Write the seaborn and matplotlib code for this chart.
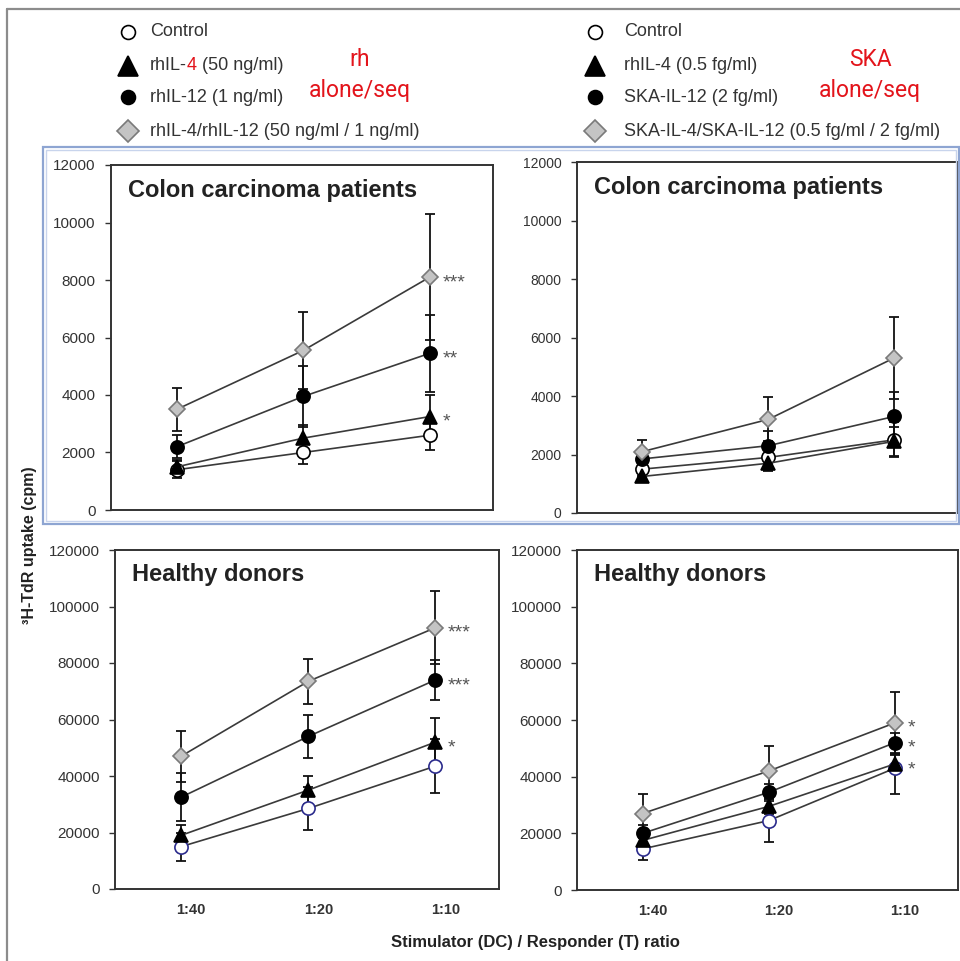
import matplotlib
matplotlib.use("Agg")
import numpy as np
import pandas as pd
import seaborn as sns
import matplotlib.pyplot as plt
from matplotlib.lines import Line2D
from matplotlib.patches import Rectangle
from matplotlib.text import Annotation
from matplotlib import font_manager

# ---------------------------------------------------------------- data
ratios = ["1:40", "1:20", "1:10"]
series = ["Control", "IL-4", "IL-12", "IL-4/IL-12"]

# colon carcinoma patients, recombinant human cytokines (mean, SEM)
colon_rh_mean = {"Control": [1400, 2000, 2600], "IL-4": [1500, 2500, 3250],
                 "IL-12": [2200, 3950, 5450], "IL-4/IL-12": [3500, 5550, 8100]}
colon_rh_err = {"Control": [300, 400, 520], "IL-4": [250, 450, 750],
                "IL-12": [400, 1050, 1350], "IL-4/IL-12": [750, 1350, 2200]}
colon_rh_stars = {"IL-4": "*", "IL-12": "**", "IL-4/IL-12": "***"}

# colon carcinoma patients, SKA cytokines
colon_ska_mean = {"Control": [1500, 1900, 2500], "IL-4": [1250, 1700, 2450],
                  "IL-12": [1850, 2300, 3300], "IL-4/IL-12": [2100, 3200, 5300]}
colon_ska_err = {"Control": [250, 300, 600], "IL-4": [200, 250, 500],
                 "IL-12": [300, 500, 850], "IL-4/IL-12": [400, 750, 1400]}
colon_ska_stars = {}

# healthy donors, recombinant human cytokines
healthy_rh_mean = {"Control": [15000, 28500, 43500], "IL-4": [19000, 35000, 52000],
                   "IL-12": [32500, 54000, 74000], "IL-4/IL-12": [47000, 73500, 92500]}
healthy_rh_err = {"Control": [5000, 7500, 9500], "IL-4": [3500, 5000, 8500],
                  "IL-12": [8500, 7500, 7000], "IL-4/IL-12": [9000, 8000, 13000]}
healthy_rh_stars = {"IL-4": "*", "IL-12": "***", "IL-4/IL-12": "***"}

# healthy donors, SKA cytokines
healthy_ska_mean = {"Control": [14500, 24500, 43000], "IL-4": [17500, 29500, 44500],
                    "IL-12": [20000, 34500, 52000], "IL-4/IL-12": [27000, 42000, 59000]}
healthy_ska_err = {"Control": [4000, 7500, 9000], "IL-4": [2500, 2500, 3000],
                   "IL-12": [3000, 3000, 3500], "IL-4/IL-12": [7000, 9000, 11000]}
healthy_ska_stars = {"IL-4": "*", "IL-12": "*", "IL-4/IL-12": "*"}

colon_ticks = [0, 2000, 4000, 6000, 8000, 10000, 12000]
healthy_ticks = [0, 20000, 40000, 60000, 80000, 100000, 120000]

legend_rh = ["Control", "rhIL-4 (50 ng/ml)", "rhIL-12 (1 ng/ml)",
             "rhIL-4/rhIL-12 (50 ng/ml / 1 ng/ml)"]
legend_ska = ["Control", "rhIL-4 (0.5 fg/ml)", "SKA-IL-12 (2 fg/ml)",
              "SKA-IL-4/SKA-IL-12 (0.5 fg/ml / 2 fg/ml)"]

# ---------------------------------------------------------------- style
sns.set_style("ticks")
plt.rcParams["font.family"] = ["Liberation Sans", "DejaVu Sans"]
installed = {f.name for f in font_manager.fontManager.ttflist}
narrow = "Liberation Sans Narrow" if "Liberation Sans Narrow" in installed else "Roboto"

W, H = 960, 961
fig = plt.figure(figsize=(W / 100, H / 100), dpi=100)


def fx(x):
    return x / W


def fy(y):
    return 1 - y / H


def box(l, t, r, b):
    return [fx(l), fy(b), fx(r) - fx(l), fy(t) - fy(b)]


TXT = "#333333"
styles = {
    "Control": dict(marker="o", ms=9.5, fc="white"),
    "IL-4": dict(marker="^", ms=10, fc="black"),
    "IL-12": dict(marker="o", ms=9.5, fc="black"),
    "IL-4/IL-12": dict(marker="D", ms=8, fc="#c4c4c4"),
}
edge = {"Control": "black", "IL-4": "black", "IL-12": "black", "IL-4/IL-12": "#7a7a7a"}
positions = [0, 1, 2]
label_shift = 0.08  # ratio labels sit a little right of their points


def draw_panel(ax, means, errs, stars, ticks, title, ctrl_edge, tick_fs, show_x):
    for name in series:
        st = styles[name]
        ax.errorbar(positions, means[name], yerr=errs[name], fmt="none",
                    ecolor="#111111", elinewidth=1.3, capsize=3.8, capthick=1.3,
                    zorder=2)
        df = pd.DataFrame({"pos": positions, "cpm": means[name]})
        ec = ctrl_edge if name == "Control" else edge[name]
        sns.lineplot(data=df, x="pos", y="cpm", ax=ax, color="#3a3a3a",
                     linewidth=1.2, marker=st["marker"], markersize=st["ms"],
                     markerfacecolor=st["fc"], markeredgecolor=ec,
                     markeredgewidth=1.2, zorder=3)
        if name in stars:
            ax.annotate(stars[name], xy=(2, means[name][2]), xytext=(9, -4),
                        textcoords="offset points", ha="left", va="center",
                        fontsize=14, color="#555555")
    ax.set_xlim(-0.52, 2.5)
    ax.set_ylim(ticks[0], ticks[-1])
    ax.set_yticks(ticks)
    ax.set_yticklabels([str(t) for t in ticks], fontsize=tick_fs, color=TXT)
    ax.set_xticks([p + label_shift for p in positions])
    if show_x:
        ax.set_xticklabels(ratios, fontsize=10.5, fontweight="bold", color=TXT)
    else:
        ax.set_xticklabels([])
    ax.tick_params(axis="x", length=0, pad=10)
    ax.tick_params(axis="y", length=4, width=1, color="#333333", pad=7)
    for sp in ax.spines.values():
        sp.set_visible(True)
        sp.set_color("#333333")
        sp.set_linewidth(1.4)
    ax.set_xlabel("")
    ax.set_ylabel("")
    ax.text(0.045, 1 - 25 / (ax.get_window_extent().height), title,
            transform=ax.transAxes, ha="left", va="center",
            fontsize=17, fontweight="bold", color="#222222")


ax_tl = fig.add_axes(box(111, 165, 493, 510))
ax_tr = fig.add_axes(box(577, 162, 957, 513))
ax_bl = fig.add_axes(box(115, 550, 499, 889))
ax_br = fig.add_axes(box(577, 550, 958, 890))

draw_panel(ax_tl, colon_rh_mean, colon_rh_err, colon_rh_stars, colon_ticks,
           "Colon carcinoma patients", "black", 11, False)
draw_panel(ax_tr, colon_ska_mean, colon_ska_err, colon_ska_stars, colon_ticks,
           "Colon carcinoma patients", "black", 10, False)
draw_panel(ax_bl, healthy_rh_mean, healthy_rh_err, healthy_rh_stars, healthy_ticks,
           "Healthy donors", "#2b2b8c", 11, True)
draw_panel(ax_br, healthy_ska_mean, healthy_ska_err, healthy_ska_stars, healthy_ticks,
           "Healthy donors", "#2b2b8c", 11, True)

# ---------------------------------------------------------------- frames
fig.add_artist(Line2D([fx(7), fx(7)], [fy(9), fy(961)], color="#8c8c8c", lw=1.6,
                      transform=fig.transFigure))
fig.add_artist(Line2D([fx(7), fx(960)], [fy(9), fy(9)], color="#8c8c8c", lw=1.6,
                      transform=fig.transFigure))
fig.add_artist(Rectangle((fx(43), fy(524)), fx(959) - fx(43), fy(147) - fy(524),
                         transform=fig.transFigure, fill=False, ec="#8ea5d2", lw=1.6))
fig.add_artist(Rectangle((fx(46), fy(521)), fx(956) - fx(46), fy(150) - fy(521),
                         transform=fig.transFigure, fill=False, ec="#c8d4ec", lw=1.0))

# ---------------------------------------------------------------- legends
rows = [32, 66, 97, 131]
leg_fs = 13


def legend_marker(x, y, name, size):
    st = styles[name]
    fig.add_artist(Line2D([fx(x)], [fy(y)], marker=st["marker"], markersize=size,
                          markerfacecolor=st["fc"], markeredgecolor=edge[name],
                          markeredgewidth=1.2, linestyle="none",
                          transform=fig.transFigure))


leg_sizes = {"Control": 10, "IL-4": 14, "IL-12": 10, "IL-4/IL-12": 11}
for i, name in enumerate(series):
    legend_marker(128, rows[i], name, leg_sizes[name])
    legend_marker(595, rows[i], name, leg_sizes[name])

for i, lab in enumerate(legend_rh):
    if i == 1:
        # the "4" of rhIL-4 is printed in red
        t1 = fig.text(fx(150), fy(rows[i]), "rhIL-", fontsize=leg_fs, color=TXT,
                      ha="left", va="center")
        a2 = fig.add_artist(Annotation("4", xy=(1, 0), xycoords=t1, ha="left",
                                       va="bottom", fontsize=leg_fs, color="#e3141b"))
        fig.add_artist(Annotation(" (50 ng/ml)", xy=(1, 0), xycoords=a2, ha="left",
                                  va="bottom", fontsize=leg_fs, color=TXT))
    else:
        fig.text(fx(150), fy(rows[i]), lab, fontsize=leg_fs, color=TXT,
                 ha="left", va="center")

for i, lab in enumerate(legend_ska):
    fig.text(fx(624), fy(rows[i]), lab, fontsize=leg_fs, color=TXT,
             ha="left", va="center")

red = "#e3141b"
for cx, word in [(360, "rh"), (870, "SKA")]:
    fig.text(fx(cx), fy(60), word, fontsize=16.5, color=red, ha="center",
             va="center", family=narrow)
    fig.text(fx(cx), fy(90), "alone/seq", fontsize=16.5, color=red, ha="center",
             va="center", family=narrow)

# ---------------------------------------------------------------- axis titles
fig.text(fx(30), fy(545), "\u00b3H-TdR uptake (cpm)", rotation=90, ha="center",
         va="center", fontsize=11.5, fontweight="bold", color="#222222")
fig.text(fx(535), fy(943), "Stimulator (DC) / Responder (T) ratio", ha="center",
         va="center", fontsize=12, fontweight="bold", color="#222222")

fig.savefig("out.png", dpi=100, facecolor="white")
